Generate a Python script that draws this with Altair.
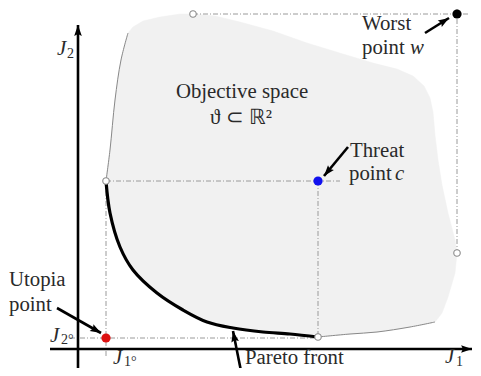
import altair as alt
import pandas as pd
import numpy as np

# Diagram coordinates: J1 to the right, J2 upward, origin where the axes cross
# Pareto front (thick black curve)
pareto_j1 = [28, 32, 42, 55, 79, 105, 129, 155, 185, 212, 240]
pareto_j2 = [168, 136, 102, 79, 56, 39, 27, 21, 17, 15, 12]

# left boundary of the objective space (thin grey)
left_j1 = [28, 32, 37, 43, 50]
left_j2 = [168, 199, 249, 289, 316]

# top / right boundary of the objective space (fill edge only)
outer_j1 = [50, 55, 65, 82, 102, 115, 137, 162, 195, 229, 265, 295, 319, 335, 346,
            352, 355, 357, 360, 364, 370, 377, 379, 377, 370, 364, 357]
outer_j2 = [316, 322, 328, 332, 335, 335, 333, 327, 318, 306, 295, 286, 280, 273, 263,
            251, 237, 214, 189, 164, 136, 109, 96, 76, 52, 36, 27]

# bottom-right boundary (thin grey)
bottom_j1 = [357, 332, 299, 272, 240]
bottom_j2 = [27, 22, 17, 15, 12]

# special points
point_names = ["utopia", "threat", "worst"]
point_j1 = [28, 240, 379]
point_j2 = [11, 168, 335]
point_colors = ["#dd1111", "#1111ee", "#000000"]

# open circles
open_j1 = [28, 115, 240, 379]
open_j2 = [168, 335, 12, 96]

# dash-dot guide segments
guide_x1 = [28, 28, -8, 240, 115, 379]
guide_y1 = [168, 168, 11, 168, 335, 340]
guide_x2 = [262, 28, 240, 240, 390, 379]
guide_y2 = [168, -9, 11, 12, 335, 96]

# coordinate axes (start -> arrow tip)
axis_x1 = [0, -28]
axis_y1 = [-23, 0]
axis_x2 = [0, 394]
axis_y2 = [324, 0]

# annotation arrows (start -> tip)
arrow_x1 = [347, 270, -21, 163]
arrow_y1 = [316, 202, 41, -22]
arrow_x2 = [371, 246, 23, 155]
arrow_y2 = [331, 173, 16, 18]

# texts
plain_text = ["Worst", "point", "Threat", "point", "Utopia", "point", "Pareto front"]
plain_x = [284, 284, 272, 271, -69, -69, 167]
plain_y = [319, 295, 192, 169, 63, 38, -15]

center_text = ["Objective space", "\u03d1 \u2282 \u211d\u00b2"]
center_x = [164, 163]
center_y = [251, 225]

italic_text = ["w", "c", "J", "J", "J", "J"]
italic_x = [332, 317, -21, 367, -28, 35]
italic_y = [295, 169, 294, -14, 7, -15]

small_text = ["2", "1", "2\u00b0", "1\u00b0"]
small_x = [-11, 378, -17, 46]
small_y = [291, -17, 5, -17]

# ---------------------------------------------------------------
XS = alt.Scale(domain=[-70, 395], nice=False, zero=False)
YS = alt.Scale(domain=[-19, 341], nice=False, zero=False)


def X(f):
    return alt.X(f, type="quantitative", scale=XS, axis=None)


def Y(f):
    return alt.Y(f, type="quantitative", scale=YS, axis=None)


poly_x = outer_j1 + bottom_j1[1:] + pareto_j1[::-1][1:] + left_j1[1:]
poly_y = outer_j2 + bottom_j2[1:] + pareto_j2[::-1][1:] + left_j2[1:]
poly = pd.DataFrame({"x": poly_x, "y": poly_y, "i": range(len(poly_x))})

region = alt.Chart(poly).mark_line(
    fill="#f1f1f1", stroke="#f1f1f1", strokeWidth=0.5, interpolate="linear"
).encode(x=X("x"), y=Y("y"), order=alt.Order("i:Q"))


def curve(xs, ys, **kw):
    d = pd.DataFrame({"x": xs, "y": ys, "i": range(len(xs))})
    return alt.Chart(d).mark_line(interpolate="catmull-rom", **kw).encode(
        x=X("x"), y=Y("y"), order=alt.Order("i:Q"))


left_line = curve(left_j1, left_j2, color="#888888", strokeWidth=1)
bottom_line = curve(bottom_j1, bottom_j2, color="#888888", strokeWidth=1)
pareto_line = curve(pareto_j1, pareto_j2, color="#000000", strokeWidth=3.2)

guides = alt.Chart(pd.DataFrame({"x": guide_x1, "y": guide_y1, "x2": guide_x2, "y2": guide_y2})).mark_rule(
    color="#9a9a9a", strokeWidth=1, strokeDash=[5, 2, 1, 2]
).encode(x=X("x"), y=Y("y"), x2="x2:Q", y2="y2:Q")

axes = alt.Chart(pd.DataFrame({"x": axis_x1, "y": axis_y1, "x2": axis_x2, "y2": axis_y2})).mark_rule(
    color="#000000", strokeWidth=2.6
).encode(x=X("x"), y=Y("y"), x2="x2:Q", y2="y2:Q")

arrows = alt.Chart(pd.DataFrame({"x": arrow_x1, "y": arrow_y1, "x2": arrow_x2, "y2": arrow_y2})).mark_rule(
    color="#000000", strokeWidth=2.6
).encode(x=X("x"), y=Y("y"), x2="x2:Q", y2="y2:Q")

hx1 = np.array(axis_x1 + arrow_x1, float)
hy1 = np.array(axis_y1 + arrow_y1, float)
hx2 = np.array(axis_x2 + arrow_x2, float)
hy2 = np.array(axis_y2 + arrow_y2, float)
ang = np.degrees(np.arctan2(hx2 - hx1, hy2 - hy1)) % 360
heads_df = pd.DataFrame({"x": hx2, "y": hy2, "ang": ang})
HEAD = "M0,0 L-0.42,1.2 L0,1.0 L0.42,1.2 Z"
heads = alt.Chart(heads_df).mark_point(
    shape=HEAD, filled=True, color="#000000", opacity=1, size=330, strokeWidth=0
).encode(x=X("x"), y=Y("y"), angle=alt.Angle("ang:Q", scale=None))

opens = alt.Chart(pd.DataFrame({"x": open_j1, "y": open_j2})).mark_point(
    shape="circle", filled=True, fill="#ffffff", stroke="#8a8a8a", strokeWidth=1.1, size=42, opacity=1
).encode(x=X("x"), y=Y("y"))

pts = alt.Chart(pd.DataFrame({"x": point_j1, "y": point_j2, "name": point_names, "c": point_colors})).mark_point(
    shape="circle", filled=True, size=85, opacity=1
).encode(x=X("x"), y=Y("y"), color=alt.Color("c:N", scale=None))

FONT = "Liberation Serif"
TCOL = "#2a2a2a"
FS = 20.8
t_plain = alt.Chart(pd.DataFrame({"t": plain_text, "x": plain_x, "y": plain_y})).mark_text(
    font=FONT, fontSize=FS, align="left", baseline="alphabetic", color=TCOL
).encode(x=X("x"), y=Y("y"), text="t:N")
t_center = alt.Chart(pd.DataFrame({"t": center_text, "x": center_x, "y": center_y})).mark_text(
    font=FONT, fontSize=FS, align="center", baseline="alphabetic", color=TCOL
).encode(x=X("x"), y=Y("y"), text="t:N")
t_italic = alt.Chart(pd.DataFrame({"t": italic_text, "x": italic_x, "y": italic_y})).mark_text(
    font=FONT, fontSize=FS, fontStyle="italic", align="left", baseline="alphabetic", color=TCOL
).encode(x=X("x"), y=Y("y"), text="t:N")
t_small = alt.Chart(pd.DataFrame({"t": small_text, "x": small_x, "y": small_y})).mark_text(
    font=FONT, fontSize=14, align="left", baseline="alphabetic", color=TCOL
).encode(x=X("x"), y=Y("y"), text="t:N")

chart = alt.layer(
    region, left_line, bottom_line, guides, pareto_line, axes, arrows, heads,
    opens, pts, t_plain, t_center, t_italic, t_small
).properties(
    width=465, height=360, autosize=alt.AutoSizeParams(type="none"), padding=0,
    background="#ffffff"
).configure_view(stroke=None)

chart.save("out.html", embed_options={"renderer": "svg", "actions": False})
